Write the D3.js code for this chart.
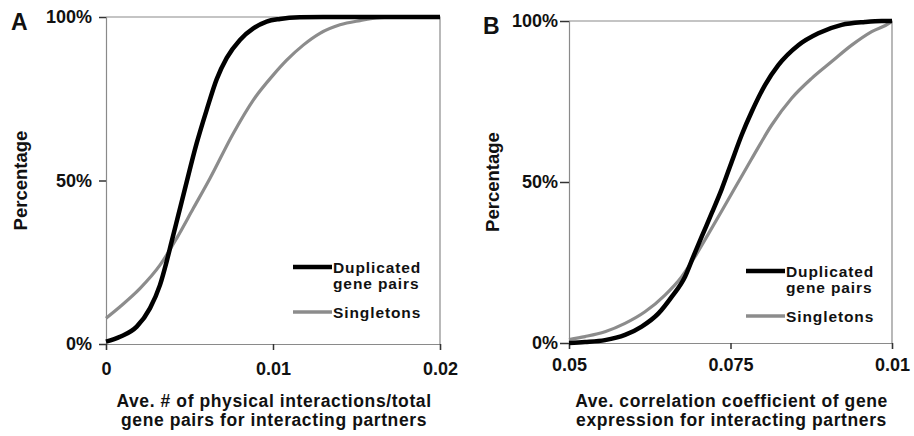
<!DOCTYPE html>
<html>
<head>
<meta charset="utf-8">
<title>CDF panels</title>
<script src="https://cdn.jsdelivr.net/npm/d3@7"></script>
<style>
body { margin: 0; background: #fff; }
svg text { font-family: "Liberation Sans", Arial, sans-serif; font-weight: bold; fill: #111; }
.axis path { stroke: #8a8a8a; }
.axis line { stroke: #333; }
</style>
</head>
<body>
<script>
// ---- data ----
var yTicks = [0, 0.5, 1];
var yTickLabels = ["0%", "50%", "100%"];
var seriesNames = ["Duplicated", "Singletons"];

// panel A
var aTicks = [0, 0.01, 0.02];
var aTickLabels = ["0", "0.01", "0.02"];
var aDupX = [0, 0.00084, 0.00184, 0.00263, 0.00323, 0.00363, 0.00393, 0.00433, 0.00473, 0.00543, 0.00603, 0.00663, 0.00723, 0.00802, 0.00882, 0.00962, 0.01042, 0.0116, 0.013, 0.02];
var aDupY = [0.007, 0.022, 0.053, 0.109, 0.18, 0.252, 0.313, 0.394, 0.475, 0.614, 0.716, 0.81, 0.875, 0.93, 0.965, 0.986, 0.994, 0.999, 1, 1];
var aSinX = [0, 0.00084, 0.00204, 0.00323, 0.00423, 0.00523, 0.00623, 0.00762, 0.00882, 0.01002, 0.01082, 0.01181, 0.01281, 0.01401, 0.01521, 0.0164, 0.0175, 0.02];
var aSinY = [0.079, 0.114, 0.17, 0.241, 0.323, 0.415, 0.507, 0.644, 0.746, 0.823, 0.868, 0.914, 0.95, 0.976, 0.989, 0.998, 1, 1];

// panel B (last tick is printed "0.01" in the original)
var bTicks = [0.05, 0.075, 0.1];
var bTickLabels = ["0.05", "0.075", "0.01"];
var bDupX = [0.05, 0.05248, 0.05557, 0.05867, 0.06125, 0.06385, 0.06592, 0.06796, 0.06924, 0.07054, 0.07209, 0.07364, 0.07519, 0.07673, 0.07828, 0.08034, 0.0824, 0.0855, 0.0886, 0.09221, 0.09582, 0.0984, 0.1];
var bDupY = [0.0, 0.003, 0.009, 0.025, 0.051, 0.092, 0.144, 0.206, 0.268, 0.33, 0.403, 0.478, 0.563, 0.646, 0.718, 0.801, 0.863, 0.925, 0.962, 0.988, 0.997, 1, 1];
var bSinX = [0.05, 0.05248, 0.05557, 0.05867, 0.06176, 0.06486, 0.06745, 0.0695, 0.07156, 0.07364, 0.0757, 0.07828, 0.08138, 0.08447, 0.08757, 0.09067, 0.09376, 0.09686, 0.09969, 0.1];
var bSinY = [0.011, 0.02, 0.035, 0.061, 0.097, 0.149, 0.206, 0.268, 0.338, 0.41, 0.482, 0.572, 0.677, 0.76, 0.822, 0.874, 0.925, 0.967, 0.995, 1];

var w = 914, h = 436;
var svg = d3.select("body").append("svg").attr("width", w).attr("height", h);

function zip(xs, ys) { return xs.map(function(d, i) { return [d, ys[i]]; }); }

function panel(p) {
	var x = d3.scaleLinear().domain(p.xDomain).range([p.left, p.right]);
	var y = d3.scaleLinear().domain([0, 1]).range([p.bottom, p.top]);
	var g = svg.append("g");

	// frame (top + right)
	g.append("path")
		.attr("d", "M" + p.left + "," + p.top + "H" + p.right + "V" + p.bottom)
		.attr("fill", "none").attr("stroke", "#8a8a8a").attr("stroke-width", 1.2);

	g.append("g").attr("class", "axis")
		.attr("transform", "translate(" + p.left + ",0)")
		.call(d3.axisLeft(y).tickValues(yTicks).tickSize(p.yTick).tickPadding(p.yPad)
			.tickFormat(function(d, i) { return yTickLabels[i]; }));
	g.append("g").attr("class", "axis")
		.attr("transform", "translate(0," + p.bottom + ")")
		.call(d3.axisBottom(x).tickValues(p.ticks).tickSize(6).tickPadding(p.xPad)
			.tickFormat(function(d, i) { return p.tickLabels[i]; }));
	g.selectAll(".axis text").style("font-size", "18px").attr("fill", "#111");
	g.selectAll(".axis path").attr("stroke-width", 1.2);
	g.selectAll(".axis line").attr("stroke-width", 1.5);

	var line = d3.line().x(function(d) { return x(d[0]); }).y(function(d) { return y(d[1]); })
		.curve(d3.curveMonotoneX);

	g.append("path").datum(zip(p.sinX, p.sinY))
		.attr("d", line).attr("fill", "none").attr("stroke", "#8c8c8c").attr("stroke-width", 3.2);
	g.append("path").datum(zip(p.dupX, p.dupY))
		.attr("d", line).attr("fill", "none").attr("stroke", "#000").attr("stroke-width", 4.5);

	// panel letter
	g.append("text").attr("x", p.letterX).attr("y", p.top + 13).style("font-size", "23px").text(p.letter);

	// y label
	g.append("text")
		.attr("transform", "translate(" + p.yLabelX + "," + (p.top + p.bottom) / 2 + ") rotate(-90)")
		.attr("text-anchor", "middle").style("font-size", "18.5px").text("Percentage");

	// x title, two lines
	var cx = (p.left + p.right) / 2;
	p.title.forEach(function(t, i) {
		g.append("text").attr("x", cx + 1).attr("y", 407 + i * 19)
			.attr("text-anchor", "middle").style("font-size", "17.5px")
			.style("letter-spacing", "0.6px").text(t);
	});

	// legend
	var lg = g.append("g").attr("transform", "translate(" + p.legX + "," + p.legY + ")");
	lg.append("line").attr("x1", 0).attr("x2", 39).attr("y1", 0).attr("y2", 0)
		.attr("stroke", "#000").attr("stroke-width", 4.5);
	lg.append("text").attr("x", 40).attr("y", 6).style("font-size", "15.5px")
		.style("letter-spacing", "0.9px").text(seriesNames[0]);
	lg.append("text").attr("x", 40).attr("y", 22).style("font-size", "15.5px")
		.style("letter-spacing", "0.9px").text("gene pairs");
	lg.append("line").attr("x1", 0).attr("x2", 39).attr("y1", 45).attr("y2", 45)
		.attr("stroke", "#8c8c8c").attr("stroke-width", 3.5);
	lg.append("text").attr("x", 40).attr("y", 51).style("font-size", "15.5px")
		.style("letter-spacing", "0.9px").text(seriesNames[1]);
}

panel({
	left: 106, right: 440, top: 17, bottom: 344,
	xDomain: [0, 0.02], ticks: aTicks, tickLabels: aTickLabels,
	dupX: aDupX, dupY: aDupY, sinX: aSinX, sinY: aSinY,
	yTick: 7, yPad: 7, xPad: 12,
	letter: "A", letterX: 11, yLabelX: 27,
	title: ["Ave. # of physical interactions/total", "gene pairs for interacting partners"],
	legX: 293, legY: 267
});

panel({
	left: 569, right: 892, top: 21, bottom: 343,
	xDomain: [0.05, 0.1], ticks: bTicks, tickLabels: bTickLabels,
	dupX: bDupX, dupY: bDupY, sinX: bSinX, sinY: bSinY,
	yTick: 9, yPad: 2, xPad: 9,
	letter: "B", letterX: 483, yLabelX: 499,
	title: ["Ave. correlation coefficient of gene", "expression for interacting partners"],
	legX: 746, legY: 271
});
</script>
</body>
</html>
